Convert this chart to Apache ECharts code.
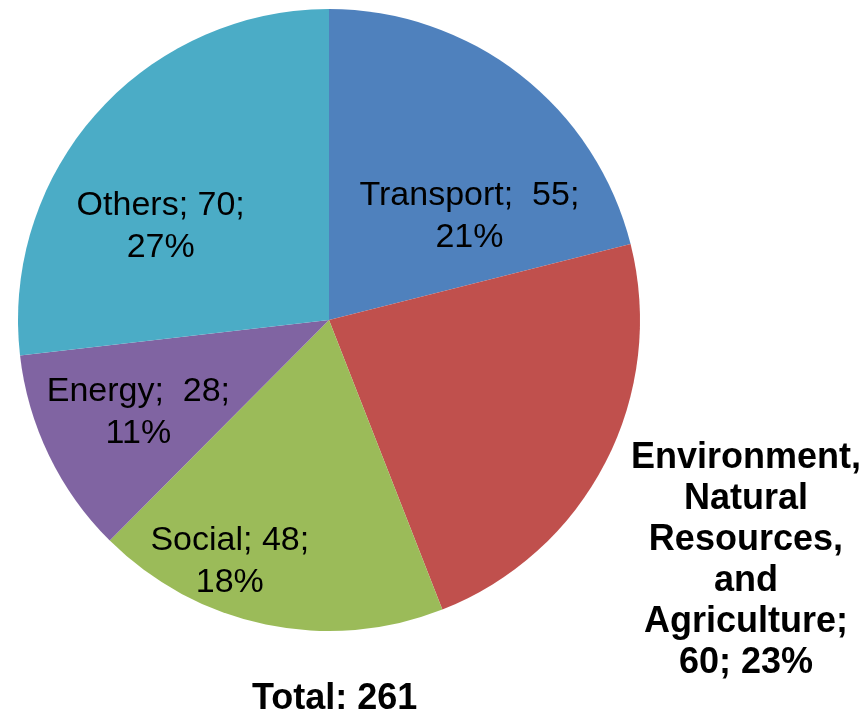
<!DOCTYPE html>
<html>
<head>
<meta charset="utf-8">
<script src="https://cdn.jsdelivr.net/npm/echarts@6/dist/echarts.min.js"></script>
<style>
  html, body { margin: 0; padding: 0; background: #fff; }
  #chart { width: 865px; height: 717px; }
</style>
</head>
<body>
<div id="chart"></div>
<script>
// data
const categories = ['Transport', 'Environment, Natural Resources, and Agriculture', 'Social', 'Energy', 'Others']
const labelNames = ['Transport;  ', 'Environment,\nNatural\nResources,\nand\nAgriculture;\n', 'Social; ', 'Energy;  ', 'Others; ']
const values = [55, 60, 48, 28, 70]
const totalLabel = 'Total: 261'

const colors = ['#4F81BD', '#C0504D', '#9BBB59', '#8064A2', '#4BACC6']

// label nudges so they sit where the original has them
const labelOffsets = [[43, 22], [276, 168], [-67, 86], [-48, 23], [-50, 12]]

const chart = echarts.init(document.getElementById('chart'))

const font = '"Liberation Sans", Arial, sans-serif'

chart.setOption({
  animation: false,
  color: colors,
  graphic: [
    {
      type: 'text',
      left: 252,
      top: 681,
      style: {
        text: totalLabel,
        font: 'bold 36px ' + font,
        fill: '#000'
      }
    }
  ],
  series: [
    {
      type: 'pie',
      center: [329, 320],
      radius: 311,
      startAngle: 90,
      clockwise: true,
      percentPrecision: 0,
      labelLine: { show: false },
      itemStyle: { borderWidth: 0 },
      emphasis: { disabled: true },
      data: categories.map((name, i) => {
        const isEnv = i === 1
        return {
          name: name,
          value: values[i],
          label: {
            show: true,
            position: 'inside',
            offset: labelOffsets[i],
            fontFamily: font,
            fontSize: isEnv ? 36 : 34,
            fontWeight: isEnv ? 'bold' : 'normal',
            lineHeight: isEnv ? 41 : 42,
            color: '#000',
            align: 'center',
            formatter: (p) => {
              if (isEnv) return labelNames[i] + p.value + '; ' + p.percent + '%'
              return labelNames[i] + p.value + ';\n' + p.percent + '%'
            }
          }
        }
      })
    }
  ]
})
</script>
</body>
</html>
